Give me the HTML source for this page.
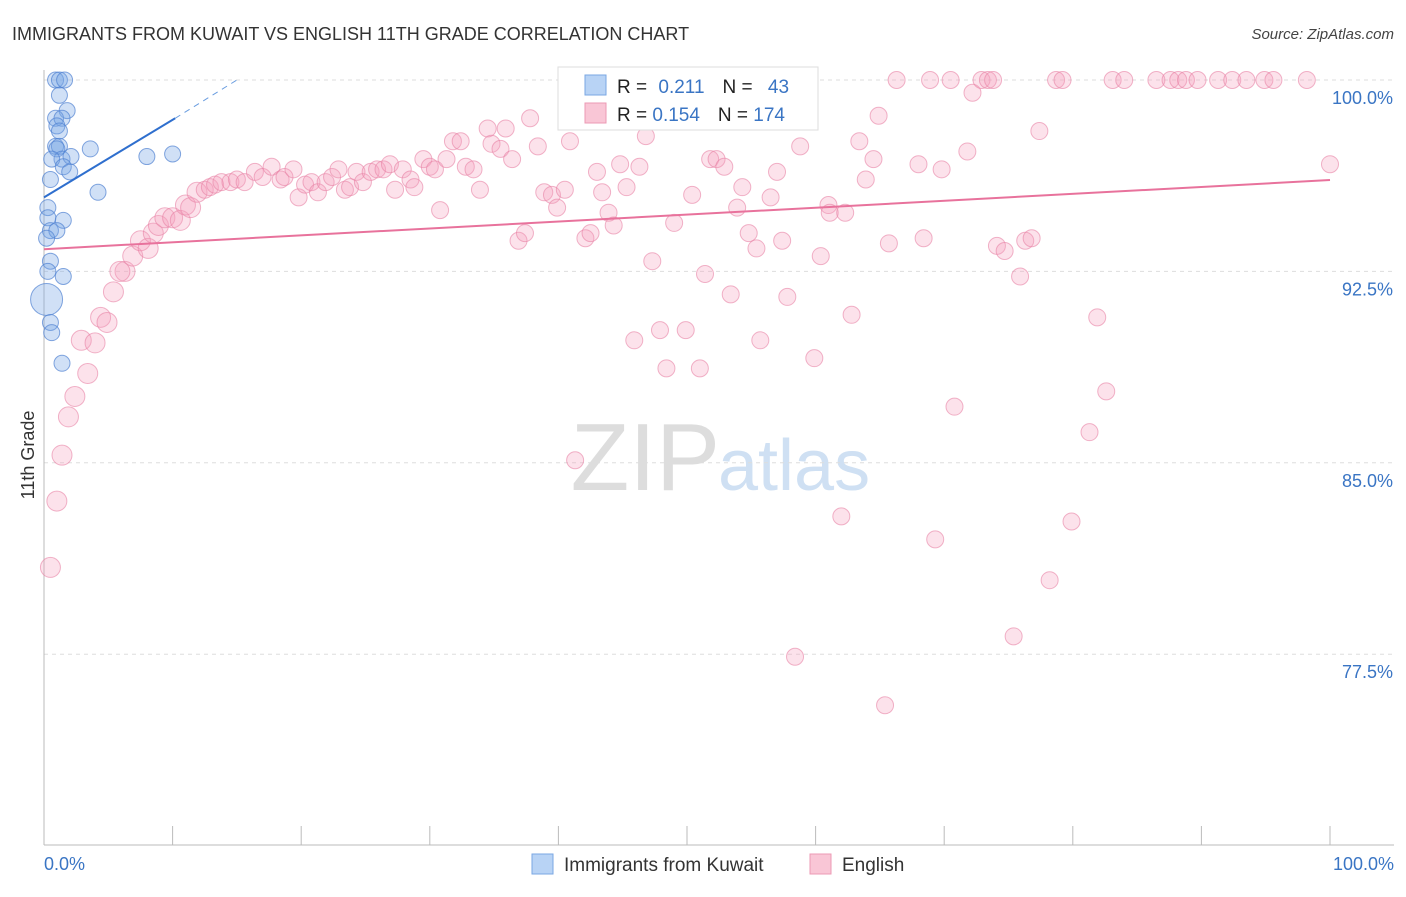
<!DOCTYPE html>
<html><head><meta charset="utf-8"><style>
body{margin:0;background:#fff;font-family:"Liberation Sans",sans-serif;}
svg text{font-family:"Liberation Sans",sans-serif;}
</style></head><body>
<svg id="chart" width="1406" height="892" xmlns="http://www.w3.org/2000/svg">
<text x="12" y="40" font-size="18" fill="#333">IMMIGRANTS FROM KUWAIT VS ENGLISH 11TH GRADE CORRELATION CHART</text>
<text x="1394" y="39" font-size="15" fill="#444" text-anchor="end" font-style="italic">Source: ZipAtlas.com</text>
<text x="720" y="490" font-size="96" text-anchor="end" fill="#ddd" font-family="Liberation Serif">ZIP</text>
<text x="718" y="490" font-size="72" fill="#cfe0f3">atlas</text>
<g id="grid"></g><g id="axes"></g><g id="pts"></g><g id="trends"></g>
<text transform="translate(34,455) rotate(-90)" font-size="18" fill="#333" text-anchor="middle">11th Grade</text>
<text x="44" y="870" font-size="18" fill="#3a75c4">0.0%</text>
<text x="1394" y="870" font-size="18" fill="#3a75c4" text-anchor="end">100.0%</text>
<g>
<rect x="558" y="67" width="260" height="63" fill="#fff" stroke="#ddd"/>
<rect x="585" y="75" width="21" height="20" fill="#b8d3f5" stroke="#7aa7e3"/>
<rect x="585" y="103" width="21" height="20" fill="#f9c6d6" stroke="#ec9ab4"/>
<text x="617" y="93" font-size="19" fill="#222">R = <tspan fill="#3a75c4" dx="6">0.211</tspan><tspan dx="18" fill="#222">N = </tspan><tspan dx="10" fill="#3a75c4">43</tspan></text>
<text x="617" y="121" font-size="19" fill="#222">R = <tspan fill="#3a75c4">0.154</tspan><tspan dx="18" fill="#222">N = </tspan><tspan fill="#3a75c4">174</tspan></text>
</g>
<g>
<rect x="532" y="854" width="21" height="20" fill="#b8d3f5" stroke="#7aa7e3"/>
<text x="564" y="871" font-size="19" fill="#333">Immigrants from Kuwait</text>
<rect x="810" y="854" width="21" height="20" fill="#f9c6d6" stroke="#ec9ab4"/>
<text x="842" y="871" font-size="19" fill="#333">English</text>
</g>
</svg>
<script>
const yTicks=[100,92.5,85,77.5];
const yTickLabels=["100.0%","92.5%","85.0%","77.5%"];
const xTicks=[0,10,20,30,40,50,60,70,80,90,100];
const blueX=[0.9,1.2,1.6,1.2,1.8,0.9,1.4,1.0,1.2,0.9,1.2,1.0,3.6,1.4,2.1,0.6,1.5,2.0,0.5,4.2,8.0,10.0,0.3,0.3,1.5,0.5,1.0,0.2,0.5,0.3,1.5,0.2,0.5,0.6,1.4];
const blueY=[100,100,100,99.4,98.8,98.5,98.5,98.2,98.0,97.4,97.4,97.3,97.3,96.9,97.0,96.9,96.6,96.4,96.1,95.6,97.0,97.1,95.0,94.6,94.5,94.1,94.1,93.8,92.9,92.5,92.3,91.4,90.5,90.1,88.9];
const pinkX=[0.5,1.0,1.4,1.9,2.4,3.4,2.9,3.97,4.4,4.9,5.4,6.3,5.9,6.9,7.5,8.1,8.5,8.9,9.4,10.0,10.6,11.0,11.4,11.9,12.5,12.9,13.3,13.8,14.5,15.0,15.6,16.4,17.0,17.7,18.4,18.7,19.4,19.8,20.3,20.8,21.3,21.9,22.4,22.9,23.4,23.8,24.3,24.8,25.4,25.9,26.4,26.9,27.3,27.9,28.5,28.8,29.5,30.0,30.4,30.8,31.3,31.8,32.4,32.8,33.4,33.9,34.5,34.8,35.5,35.9,36.4,36.9,37.4,37.8,38.4,38.9,39.5,39.9,40.5,40.9,41.3,42.1,42.5,43.0,43.4,43.9,44.3,44.8,45.3,45.9,46.3,46.8,47.3,47.9,48.4,49.0,49.9,50.4,51.0,51.4,51.8,52.3,52.9,53.4,53.9,54.3,54.8,55.4,55.7,56.5,57.0,57.4,57.8,58.4,58.8,59.3,59.9,60.4,61.0,61.1,62.0,62.3,62.8,63.4,63.9,64.5,64.9,65.4,65.7,66.3,68.0,68.4,68.9,69.3,69.8,70.5,70.8,71.8,72.2,72.9,73.4,73.8,74.1,74.7,75.4,75.9,76.3,76.8,77.4,78.2,78.7,79.2,79.9,81.3,81.9,82.6,83.1,84.0,86.5,87.6,88.2,88.8,89.7,91.3,92.4,93.5,94.9,95.6,98.2,100];
const pinkY=[80.9,83.5,85.3,86.8,87.6,88.5,89.8,89.7,90.7,90.5,91.7,92.5,92.5,93.1,93.7,93.4,94.0,94.3,94.6,94.6,94.5,95.1,95.0,95.6,95.7,95.8,95.9,96.0,96.0,96.1,96.0,96.4,96.2,96.6,96.1,96.2,96.5,95.4,95.9,96.0,95.6,96.0,96.2,96.5,95.7,95.8,96.4,96.0,96.4,96.5,96.5,96.7,95.7,96.5,96.1,95.8,96.9,96.6,96.5,94.9,96.9,97.6,97.6,96.6,96.5,95.7,98.1,97.5,97.3,98.1,96.9,93.7,94.0,98.5,97.4,95.6,95.5,95.0,95.7,97.6,85.1,93.8,94.0,96.4,95.6,94.8,94.3,96.7,95.8,89.8,96.6,97.8,92.9,90.2,88.7,94.4,90.2,95.5,88.7,92.4,96.9,96.9,96.6,91.6,95.0,95.8,94.0,93.4,89.8,95.4,96.4,93.7,91.5,77.4,97.4,99.5,89.1,93.1,95.1,94.8,82.9,94.8,90.8,97.6,96.1,96.9,98.6,75.5,93.6,100,96.7,93.8,100,82.0,96.5,100,87.2,97.2,99.5,100,100,100,93.5,93.3,78.2,92.3,93.7,93.8,98.0,80.4,100,100,82.7,86.2,90.7,87.8,100,100,100,100,100,100,100,100,100,100,100,100,100,96.7];
const blueTrend=[[0,95.4],[10.2,98.5]];
const blueDash=[[10.2,98.5],[15,100]];
const pinkTrend=[[0,93.37],[100,96.08]];
const NS="http://www.w3.org/2000/svg";
const xs=v=>44+v*12.86;
const ys=v=>80+(100-v)*25.52;
function mk(t,a,p){const e=document.createElementNS(NS,t);for(const k in a)e.setAttribute(k,a[k]);p.appendChild(e);return e;}
const grid=document.getElementById('grid'),axes=document.getElementById('axes'),pts=document.getElementById('pts'),tr=document.getElementById('trends');
yTicks.forEach((v,i)=>{
 const l=mk('line',{x1:44,x2:1394,y1:ys(v),y2:ys(v),stroke:'#ddd','stroke-dasharray':'4,4'},grid);
 
 
 const t=mk('text',{x:1393,y:ys(v)+24,'font-size':18,fill:'#3a75c4','text-anchor':'end'},grid);
 t.textContent=yTickLabels[i];
 
 
});
const ax=mk('line',{x1:44,x2:1394,y1:845,y2:845,stroke:'#bbb'},axes);


const ay=mk('line',{x1:44,x2:44,y1:70,y2:845,stroke:'#bbb'},axes);


xTicks.forEach(v=>{
 const l=mk('line',{x1:xs(v),x2:xs(v),y1:826,y2:845,stroke:'#bbb'},axes);
 
 
});
pinkX.forEach((x,i)=>{
 const c=mk('circle',{cx:xs(x),cy:ys(pinkY[i]),r:x<12?10:8.5,fill:'rgba(244,160,188,0.3)',stroke:'rgba(232,130,165,0.6)','stroke-width':1},pts);
 
 
});
blueX.forEach((x,i)=>{
 const c=mk('circle',{cx:xs(x),cy:ys(blueY[i]),r:i==31?16:8,fill:'rgba(120,165,230,0.35)',stroke:'rgba(80,130,210,0.7)','stroke-width':1},pts);
 
 
});
const pl=mk('line',{x1:xs(pinkTrend[0][0]),y1:ys(pinkTrend[0][1]),x2:xs(pinkTrend[1][0]),y2:ys(pinkTrend[1][1]),stroke:'#e8729c','stroke-width':2},tr);


const bl=mk('line',{x1:xs(blueTrend[0][0]),y1:ys(blueTrend[0][1]),x2:xs(blueTrend[1][0]),y2:ys(blueTrend[1][1]),stroke:'#2f6fce','stroke-width':2},tr);


const bd=mk('line',{x1:xs(blueDash[0][0]),y1:ys(blueDash[0][1]),x2:xs(blueDash[1][0]),y2:ys(blueDash[1][1]),stroke:'#6a9de0','stroke-width':1,'stroke-dasharray':'6,5'},tr);


</script>
</body></html>
